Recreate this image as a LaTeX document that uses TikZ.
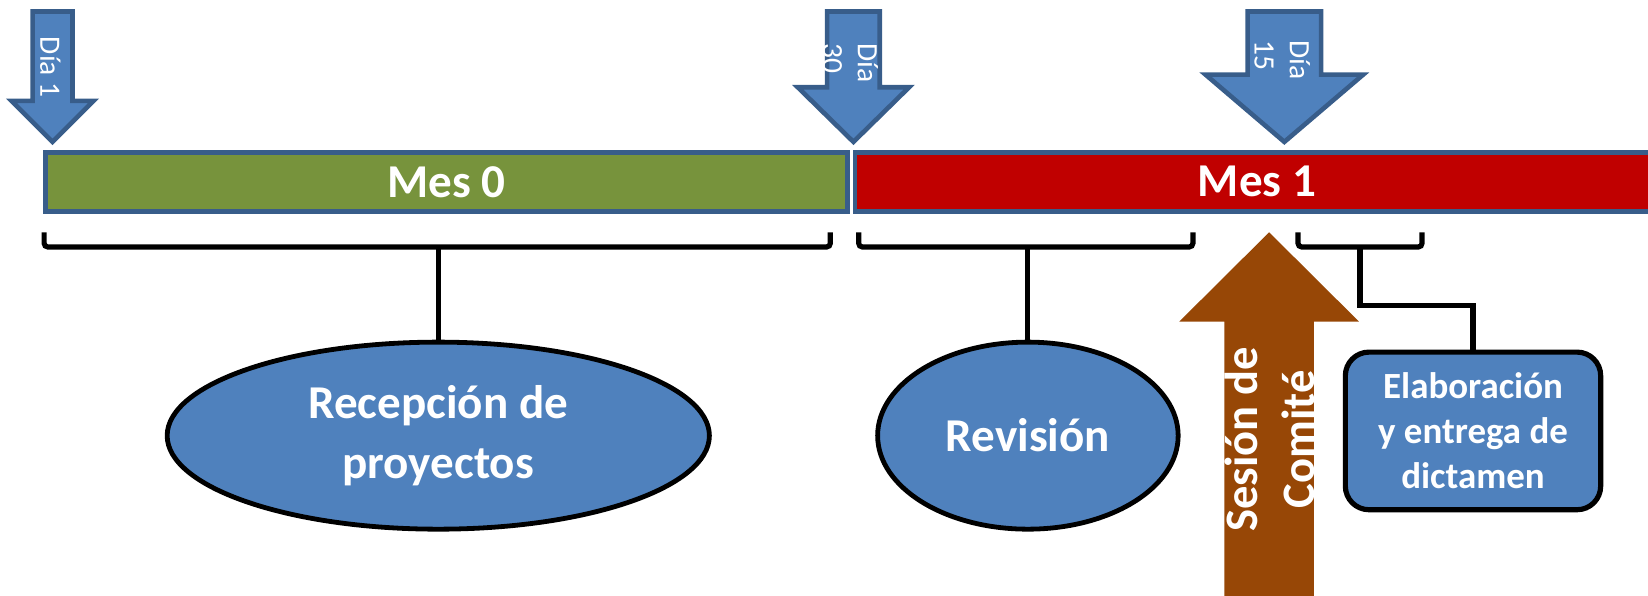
\documentclass[tikz,border=0pt]{standalone}
\usepackage{fontspec}
\setmainfont{Carlito}
\usepackage{xcolor}
\usepackage{tikz}
\usetikzlibrary{shapes.geometric}

\definecolor{dayblue}{RGB}{79,129,189}
\definecolor{dayedge}{RGB}{56,93,138}
\definecolor{monthgreen}{RGB}{119,147,60}
\definecolor{monthred}{RGB}{192,0,0}
\definecolor{sessionbrown}{RGB}{151,71,6}

\begin{document}
\begin{tikzpicture}[x=0.02cm, y=-0.02cm,
        dayarrow/.style={fill=dayblue, draw=dayedge, line width=2.5pt},
        daytext/.style={text=white, rotate=-90, align=left, inner sep=0pt, font=\fontsize{16}{19}\selectfont},
        month/.style={draw=dayedge, line width=2.5pt, minimum height=1.12cm, inner sep=0pt, text=white, font=\fontsize{25.5}{30}\selectfont\bfseries},
        bracket/.style={draw=black, line width=2.8pt, rounded corners=2pt},
        oval/.style={ellipse, draw=black, line width=2.6pt, fill=dayblue, minimum height=3.56cm, inner sep=0pt, text=white, align=center, font=\fontsize{25.5}{32}\selectfont\bfseries}]
        \useasboundingbox (0,0) rectangle (1568,567);
        \clip (0,0) rectangle (1568,567);

        \coordinate (B1l) at (42,221);
        \coordinate (B1r) at (790,221);
        \coordinate (B1) at (417,235);

        \coordinate (B2l) at (817,221);
        \coordinate (B2r) at (1135,221);
        \coordinate (B2) at (978,235);

        \coordinate (B3l) at (1235,221);
        \coordinate (B3r) at (1353,221);
        \coordinate (B3) at (1294,235);
        \coordinate (B3k) at (1294,291);

        \filldraw[dayarrow] (31,11) -- (69,11) -- (69,96) -- (89,96) -- (50,135) -- (11,96) -- (31,96) -- cycle;
        \filldraw[dayarrow] (787,11) -- (837,11) -- (837,83) -- (865,83) -- (812,135) -- (759,83) -- (787,83) -- cycle;
        \filldraw[dayarrow] (1187,11) -- (1257,11) -- (1257,71) -- (1297,71) -- (1222,135) -- (1147,71) -- (1187,71) -- cycle;
        \node[daytext] (dia1) at (48,64) {Día 1};
        \node[daytext] (dia30) at (809,60) {Día\\30};
        \node[daytext] (dia15) at (1220,57) {Día\\15};

        \node[month, fill=monthgreen, minimum width=15.26cm] (mes0) at (425,173) {Mes 0};
        \node[month, fill=monthred, minimum width=15.3cm] (mes1) at (1196,173) {Mes 1};

        \fill[sessionbrown] (1165,580) -- (1165,306) -- (1122,306) -- (1207.5,221) -- (1293,306) -- (1250,306) -- (1250,580) -- cycle;
        \node[text=white, rotate=90, align=center, inner sep=0pt, font=\fontsize{25.2}{30.7}\selectfont\bfseries] (sesion) at (1208,418) {Sesión de\\Comité};

        \node[oval, minimum width=10.32cm] (recepcion) at (417,414.5) {Recepción de\\proyectos};
        \node[oval, minimum width=5.72cm] (revision) at (978,414.5) {Revisión};
        \node[draw=black, line width=2.8pt, fill=dayblue, rounded corners=0.45cm, minimum width=4.86cm, minimum height=3cm, inner sep=0pt, text=white, align=center, font=\fontsize{20}{24.3}\selectfont\bfseries] (dictamen) at (1401.5,410) {Elaboración\\y entrega de\\dictamen};

        \draw[bracket] (B1l) -- (B1l |- B1) -- (B1r |- B1) -- (B1r);
        \draw[bracket] (B2l) -- (B2l |- B2) -- (B2r |- B2) -- (B2r);
        \draw[bracket] (B3l) -- (B3l |- B3) -- (B3r |- B3) -- (B3r);
        \draw[line width=2.8pt] (B1) -- (recepcion.north);
        \draw[line width=2.8pt] (B2) -- (revision.north);
        \draw[line width=2.8pt] (B3) -- (B3k) -| (dictamen.north);
    \end{tikzpicture}
\end{document}
